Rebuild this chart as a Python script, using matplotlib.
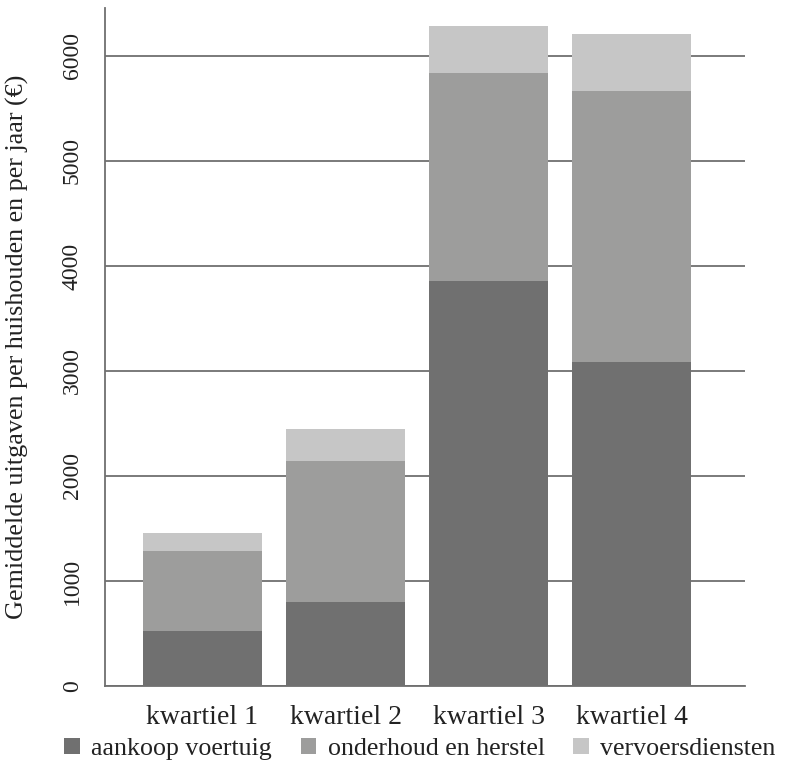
import numpy as np
import matplotlib
matplotlib.use('Agg')
import matplotlib.pyplot as plt

plt.rcParams['font.family'] = ['Liberation Serif', 'DejaVu Serif']

categories = ['kwartiel 1', 'kwartiel 2', 'kwartiel 3', 'kwartiel 4']
series_names = ['aankoop voertuig', 'onderhoud en herstel', 'vervoersdiensten']
aankoop = [527, 803, 3854, 3083]
onderhoud = [759, 1340, 1981, 2581]
vervoer = [171, 305, 448, 543]
yticks = [0, 1000, 2000, 3000, 4000, 5000, 6000]
colors = ['#707070', '#9d9d9c', '#c6c6c6']

fig = plt.figure(figsize=(7.88, 7.62), dpi=100)
ax = fig.add_axes([105/788, 1 - 686/762, 640/788, 678/762])

x = np.arange(len(categories))
bottom = np.zeros(len(categories))
handles = []
for vals, col, name in zip([aankoop, onderhoud, vervoer], colors, series_names):
    b = ax.bar(x, vals, width=0.83, bottom=bottom, color=col, label=name, zorder=3)
    bottom += np.array(vals)
    handles.append(b)

ax.set_xlim(-0.68, 3.79)
ax.set_ylim(0, 6457)
ax.set_yticks(yticks)
ax.set_yticklabels([str(t) for t in yticks], rotation=90, va='center', fontsize=17, color='#222222')
ax.tick_params(axis='y', length=0, pad=16)
ax.set_xticks(x)
ax.set_xticklabels(categories, fontsize=20, color='#222222')
ax.tick_params(axis='x', length=0, pad=14)

ax.yaxis.grid(True, color='#6f6f6f', linewidth=1.3, zorder=0)
ax.set_axisbelow(True)
for s in ['top', 'right']:
    ax.spines[s].set_visible(False)
for s in ['left', 'bottom']:
    ax.spines[s].set_color('#6f6f6f')
    ax.spines[s].set_linewidth(1.3)

ax.set_ylabel('Gemiddelde uitgaven per huishouden en per jaar (€)', fontsize=18.8, color='#222222')
ax.yaxis.set_label_coords(-0.118, 0.5)

fig.legend(handles=handles, labels=series_names, loc='center', ncol=3,
           bbox_to_anchor=(420/788, 1 - 749/762), frameon=False, fontsize=18.6,
           handlelength=0.6, handleheight=0.6, handletextpad=0.45, columnspacing=1.1,
           borderpad=0, labelcolor='#222222')

fig.savefig('out.png', dpi=100)
